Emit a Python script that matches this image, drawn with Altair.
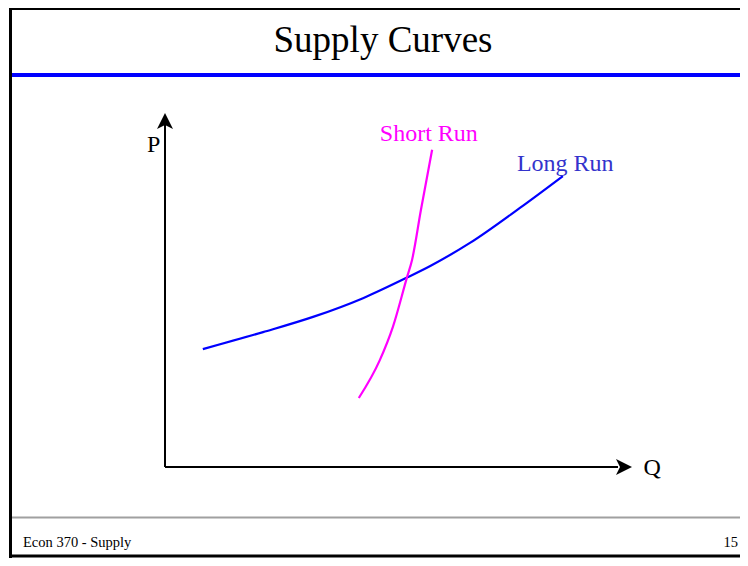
import altair as alt
import pandas as pd

# ---------------- data ----------------
title_text = ["Supply Curves"]
footer_left = ["Econ 370 - Supply"]
footer_right = ["15"]

# Long-run supply curve (Q, P in chart units, axes run 0..10)
long_run_q = [0.81, 2.10, 3.17, 4.24, 5.18, 5.68, 6.53, 7.60, 8.52]
long_run_p = [3.33, 3.81, 4.24, 4.77, 5.35, 5.68, 6.33, 7.32, 8.22]

# Short-run supply curve
short_run_q = [4.15, 4.60, 4.88, 5.18, 5.29, 5.48, 5.72]
short_run_p = [1.95, 3.02, 3.96, 5.35, 5.85, 7.26, 8.96]

# curve labels
label_text = ["Short Run", "Long Run"]
label_q = [5.65, 8.57]
label_p = [9.21, 8.36]
label_color = ["#FF00FF", "#3333CC"]

# axis names
axis_names = ["P", "Q"]
axis_name_q = [-0.24, 10.43]
axis_name_p = [9.10, -0.03]

# axis extents
axis_max = 10

# ---------------- tables ----------------
long_df = pd.DataFrame({"q": long_run_q, "p": long_run_p})
short_df = pd.DataFrame({"q": short_run_q, "p": short_run_p})
labels_df = pd.DataFrame({"q": label_q, "p": label_p, "t": label_text, "c": label_color})
names_df = pd.DataFrame({"q": axis_name_q, "p": axis_name_p, "t": axis_names})
yaxis_df = pd.DataFrame({"q": [0], "p": [0], "q2": [0], "p2": [axis_max - 0.3]})
xaxis_df = pd.DataFrame({"q": [0], "p": [0], "q2": [axis_max - 0.3], "p2": [0]})
ytip_df = pd.DataFrame({"q": [0], "p": [axis_max]})
xtip_df = pd.DataFrame({"q": [axis_max], "p": [0]})
one = pd.DataFrame({"k": [0]})

W, H = 732, 550
SERIF = "Liberation Serif"

xs = alt.Scale(domain=[0, axis_max], range=[157, 624], nice=False, zero=False)
ys = alt.Scale(domain=[0, axis_max], range=[459, 105], nice=False, zero=False)

def X(f="q"):
    return alt.X(f"{f}:Q", scale=xs, axis=None)

def Y(f="p"):
    return alt.Y(f"{f}:Q", scale=ys, axis=None)

# ---------------- slide decoration ----------------
left_border = alt.Chart(one).mark_rule(color="black", strokeWidth=3).encode(
    x=alt.value(2.5), y=alt.value(0), y2=alt.value(H))
top_border = alt.Chart(one).mark_rule(color="black", strokeWidth=2).encode(
    x=alt.value(1), x2=alt.value(W), y=alt.value(1))
bottom_border = alt.Chart(one).mark_rule(color="black", strokeWidth=3).encode(
    x=alt.value(1), x2=alt.value(W), y=alt.value(H - 2))
blue_bar = alt.Chart(one).mark_rule(color="#0000FF", strokeWidth=4).encode(
    x=alt.value(4), x2=alt.value(W), y=alt.value(67))
gray_bar = alt.Chart(one).mark_rule(color="#a0a0a0", strokeWidth=2).encode(
    x=alt.value(4), x2=alt.value(W), y=alt.value(509.5))

title = alt.Chart(pd.DataFrame({"t": title_text})).mark_text(
    font=SERIF, fontSize=37, color="black", align="center", baseline="alphabetic"
).encode(x=alt.value(375), y=alt.value(44), text="t:N")

foot_l = alt.Chart(pd.DataFrame({"t": footer_left})).mark_text(
    font=SERIF, fontSize=14.5, color="black", align="left", baseline="alphabetic"
).encode(x=alt.value(15), y=alt.value(539), text="t:N")

foot_r = alt.Chart(pd.DataFrame({"t": footer_right})).mark_text(
    font=SERIF, fontSize=14.5, color="black", align="right", baseline="alphabetic"
).encode(x=alt.value(730), y=alt.value(539), text="t:N")

# ---------------- axes with arrows ----------------
yaxis = alt.Chart(yaxis_df).mark_rule(color="black", strokeWidth=2).encode(
    x=X(), y=Y(), x2="q2:Q", y2="p2:Q")
xaxis = alt.Chart(xaxis_df).mark_rule(color="black", strokeWidth=2).encode(
    x=X(), y=Y(), x2="q2:Q", y2="p2:Q")

arrow_up = "M0,0 L1,2 L0,1.5 L-1,2 Z"
arrow_right = "M0,0 L-2,-1 L-1.5,0 L-2,1 Z"

ytip = alt.Chart(ytip_df).mark_point(
    shape=arrow_up, size=256, filled=True, color="black", opacity=1, strokeWidth=0
).encode(x=X(), y=Y())
xtip = alt.Chart(xtip_df).mark_point(
    shape=arrow_right, size=256, filled=True, color="black", opacity=1, strokeWidth=0
).encode(x=X(), y=Y())

names = alt.Chart(names_df).mark_text(
    font=SERIF, fontSize=24, color="black", align="center", baseline="middle"
).encode(x=X(), y=Y(), text="t:N")

# ---------------- curves ----------------
long_line = alt.Chart(long_df).mark_line(
    color="#0000FF", strokeWidth=2.2, interpolate="monotone"
).encode(x=X(), y=Y())
short_line = alt.Chart(short_df).mark_line(
    color="#FF00FF", strokeWidth=2.2, interpolate="monotone"
).encode(x=X(), y=Y())

labels = alt.Chart(labels_df).mark_text(
    font=SERIF, fontSize=24, align="center", baseline="alphabetic"
).encode(x=X(), y=Y(), text="t:N", color=alt.Color("c:N", scale=None))

chart = alt.layer(
    left_border, top_border, bottom_border, blue_bar, gray_bar,
    title, foot_l, foot_r,
    yaxis, xaxis, ytip, xtip, names,
    long_line, short_line, labels,
).properties(
    width=W, height=H, padding=0,
    autosize=alt.AutoSizeParams(type="none"),
    background="white",
).configure_view(strokeWidth=0)

chart.save("out.html", embed_options={"renderer": "svg", "actions": False})
